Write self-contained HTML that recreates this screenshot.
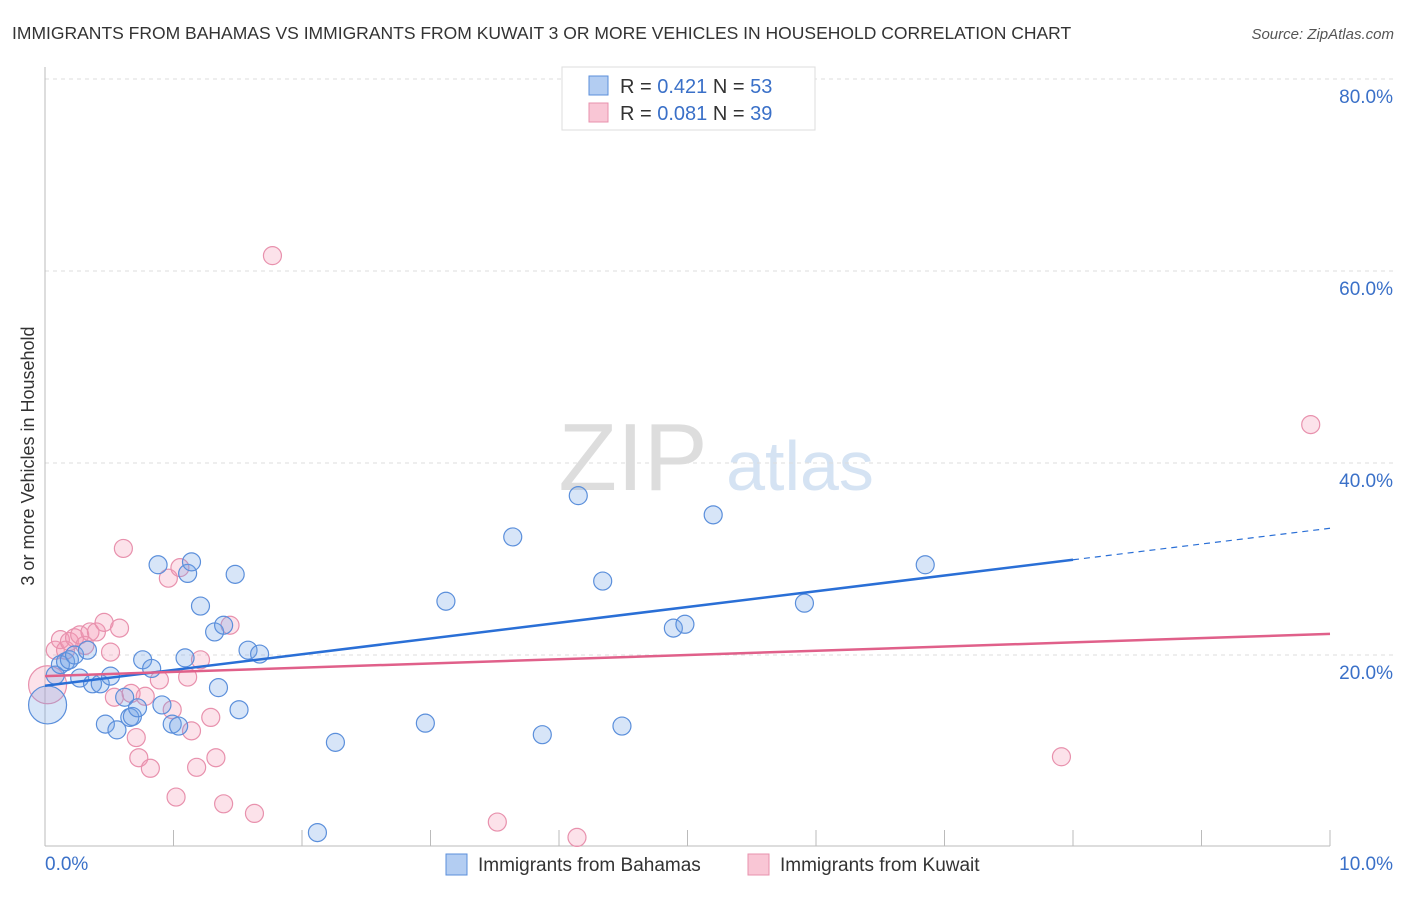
<!DOCTYPE html>
<html><head><meta charset="utf-8"><style>
body{margin:0;background:#fff;font-family:"Liberation Sans",sans-serif;}
svg text{font-family:"Liberation Sans",sans-serif;}
</style></head><body>
<svg id="chart" width="1406" height="892">
<text x="12" y="39" font-size="17.5" fill="#333">IMMIGRANTS FROM BAHAMAS VS IMMIGRANTS FROM KUWAIT 3 OR MORE VEHICLES IN HOUSEHOLD CORRELATION CHART</text>
<text x="1394" y="39" font-size="15" fill="#555" font-style="italic" text-anchor="end">Source: ZipAtlas.com</text>
<text x="633" y="490" font-size="96" fill="#ddd" font-family="Liberation Serif" text-anchor="middle">ZIP</text>
<text x="800" y="490" font-size="70" fill="#d5e3f3" text-anchor="middle">atlas</text>
<text transform="translate(34,456) rotate(-90)" font-size="18" fill="#333" text-anchor="middle">3 or more Vehicles in Household</text>
<g id="grid"></g><g id="marks"></g><g id="lines"></g>
<g>
<rect x="562" y="67" width="253" height="63" fill="#fff" stroke="#ddd"/>
<rect x="589" y="76" width="19" height="19" fill="#b3cdf2" stroke="#5b8fdb"/>
<text x="620" y="93" font-size="20" fill="#333">R = <tspan fill="#3a70c8">0.421</tspan>   N = <tspan fill="#3a70c8">53</tspan></text>
<rect x="589" y="103" width="19" height="19" fill="#f9c6d5" stroke="#e891ad"/>
<text x="620" y="120" font-size="20" fill="#333">R = <tspan fill="#3a70c8">0.081</tspan>   N = <tspan fill="#3a70c8">39</tspan></text>
</g>
<g>
<rect x="446" y="854" width="21" height="21" fill="#b3cdf2" stroke="#5b8fdb"/>
<text x="478" y="871" font-size="19" fill="#333">Immigrants from Bahamas</text>
<rect x="748" y="854" width="21" height="21" fill="#f9c6d5" stroke="#e891ad"/>
<text x="780" y="871" font-size="19" fill="#333">Immigrants from Kuwait</text>
</g>
</svg>
<script>
const yTicks=[20,40,60,80];
const xTickLabels=["0.0%","10.0%"];
const blueX=[0.02,0.08,0.12,0.16,0.19,0.23,0.27,0.33,0.37,0.43,0.47,0.51,0.56,0.62,0.66,0.68,0.72,0.76,0.83,0.88,0.91,0.99,1.04,1.09,1.11,1.14,1.21,1.32,1.35,1.39,1.48,1.51,1.58,1.67,2.12,2.26,2.96,3.12,3.64,3.87,4.15,4.34,4.49,4.89,4.98,5.20,5.91,6.85];
const blueY=[14.8,17.9,19.0,19.3,19.5,20.0,17.6,20.5,17.0,17.0,12.8,17.8,12.2,15.6,13.5,13.6,14.5,19.5,18.6,29.4,14.8,12.8,12.6,19.7,28.5,29.7,25.1,22.4,16.6,23.1,28.4,14.3,20.5,20.1,1.5,10.9,12.9,25.6,32.3,11.7,36.6,27.7,12.6,22.8,23.2,34.6,25.4,29.4];
const pinkX=[0.02,0.08,0.12,0.16,0.19,0.23,0.27,0.31,0.35,0.40,0.46,0.51,0.54,0.58,0.61,0.67,0.71,0.73,0.78,0.82,0.89,0.96,0.99,1.02,1.05,1.11,1.14,1.18,1.21,1.29,1.33,1.39,1.44,1.63,1.77,3.52,4.14,7.91,9.85];
const pinkY=[16.9,20.5,21.6,20.5,21.4,21.8,22.1,21.0,22.4,22.4,23.4,20.3,15.6,22.8,31.1,16.0,11.4,9.3,15.7,8.2,17.4,28.0,14.3,5.2,29.1,17.7,12.1,8.3,19.5,13.5,9.3,4.5,23.1,3.5,61.6,2.6,1.0,9.4,44.0];
const blueTrend=[16.8,33.2], blueSolidEnd=8.0;
const pinkTrend=[17.8,22.2];
const NS="http://www.w3.org/2000/svg";
const X=v=>45+v*128.5, Y=v=>847-v*9.6;
function mk(tag,attrs,parent){const e=document.createElementNS(NS,tag);for(const k in attrs)e.setAttribute(k,attrs[k]);parent.appendChild(e);return e;}
const grid=document.getElementById('grid'),marks=document.getElementById('marks'),lines=document.getElementById('lines');
yTicks.forEach(t=>{
 const l=mk('line',{x1:45,x2:1393,y1:Y(t),y2:Y(t),stroke:'#ddd','stroke-dasharray':'4,4'},grid);
 
 
 const tx=mk('text',{x:1393,y:Y(t)+24,'font-size':19,fill:'#3a70c8','text-anchor':'end'},grid);
 tx.textContent=t+'.0%';
 
 
});
const ax=mk('line',{x1:45,x2:45,y1:67,y2:846,stroke:'#bbb'},grid);


const bx=mk('line',{x1:45,x2:1330,y1:846,y2:846,stroke:'#bbb'},grid);


for(let i=1;i<=10;i++){const t=mk('line',{x1:X(i),x2:X(i),y1:830,y2:846,stroke:'#bbb'},grid);
 
 }
[[0,'start',45],[10,'end',1393]].forEach((d,i)=>{const t=mk('text',{x:d[2],y:870,'font-size':19,fill:'#3a70c8','text-anchor':d[1]},grid);t.textContent=xTickLabels[i];
 
 });
function dots(xs,ys,fill,stroke,name){xs.forEach((x,i)=>{const c=mk('circle',{cx:X(x),cy:Y(ys[i]),r:(i===0?19:9),fill:fill,stroke:stroke,'stroke-width':1.2},marks);
 
 });}
dots(pinkX,pinkY,'rgba(243,150,180,0.28)','#e891ad','kuwait-point');
dots(blueX,blueY,'rgba(110,160,230,0.28)','#5b8fdb','bahamas-point');
const bAt=v=>blueTrend[0]+(blueTrend[1]-blueTrend[0])*v/10;
const l1=mk('line',{x1:X(0),y1:Y(bAt(0)),x2:X(blueSolidEnd),y2:Y(bAt(blueSolidEnd)),stroke:'#2a6fd6','stroke-width':2.5},lines);


const l2=mk('line',{x1:X(blueSolidEnd),y1:Y(bAt(blueSolidEnd)),x2:X(10),y2:Y(bAt(10)),stroke:'#2a6fd6','stroke-width':1.2,'stroke-dasharray':'6,5'},lines);


const l3=mk('line',{x1:X(0),y1:Y(pinkTrend[0]),x2:X(10),y2:Y(pinkTrend[1]),stroke:'#e0608a','stroke-width':2.5},lines);


</script>
</body></html>
